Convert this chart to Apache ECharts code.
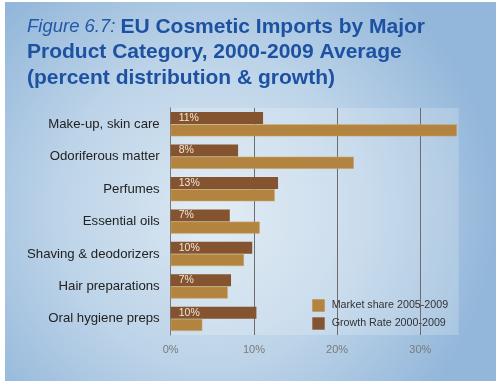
<!DOCTYPE html>
<html><head><meta charset="utf-8">
<script src="https://cdn.jsdelivr.net/npm/echarts@6/dist/echarts.min.js"></script>
<style>
html,body{margin:0;padding:0;background:#fff;width:496px;height:381px;overflow:hidden;}
#c{position:absolute;left:5px;top:2px;width:491px;height:379px;}
</style></head>
<body><div id="c"></div>
<script>
var categories = ['Make-up, skin care','Odoriferous matter','Perfumes','Essential oils','Shaving & deodorizers','Hair preparations','Oral hygiene preps'];
var marketShare = [34.4, 22.0, 12.5, 10.7, 8.8, 6.85, 3.8];
var growthRate = [11.1, 8.1, 12.9, 7.1, 9.8, 7.25, 10.3];
var growthLabels = ['11%','8%','13%','7%','10%','7%','10%'];
var xTicks = [0, 10, 20, 30];
var seriesNames = ['Market share 2005-2009','Growth Rate 2000-2009'];

var chart = echarts.init(document.getElementById('c'), null, {renderer:'canvas'});
var font = '"Liberation Sans", Arial, Helvetica, sans-serif';
chart.setOption({
  animation:false,
  backgroundColor:{type:'radial', x:0.42, y:0.55, r:0.75,
    colorStops:[{offset:0,color:'#dbe8f2'},{offset:0.55,color:'#bcd3e8'},{offset:1,color:'#93b7da'}]},
  textStyle:{fontFamily:font},
  title:{
    left:22, top:12, padding:0,
    text:'{it|Figure 6.7:} {b|EU Cosmetic Imports by Major}\n{b|Product Category, 2000-2009 Average}\n{b|(percent distribution & growth)}',
    textStyle:{
      rich:{
        it:{fontFamily:font, fontStyle:'italic', fontWeight:'normal', fontSize:18.5, color:'#2458a8', lineHeight:25.5},
        b:{fontFamily:font, fontWeight:'bold', fontSize:21, color:'#1d52a2', lineHeight:25.5}
      }
    }
  },
  legend:{
    orient:'vertical', left:307.3, top:297.3, padding:0, itemWidth:12.4, itemHeight:12.4, itemGap:5.6,
    data:seriesNames, icon:'rect', itemStyle:{borderWidth:0},
    textStyle:{fontFamily:'"Liberation Sans Narrow", "Liberation Sans", Arial, sans-serif', fontSize:10.7, color:'#333', padding:[0,0,0,2]}
  },
  grid:{left:165.7, top:106, width:287.9, height:227, show:true,
    backgroundColor:'rgba(255,255,255,0.2)', borderWidth:0},
  xAxis:{
    type:'value', min:0, max:34.6, interval:10,
    axisLine:{show:false}, axisTick:{show:false},
    splitLine:{show:true, lineStyle:{color:['#777','#6d6d6d','#6d6d6d','#6d6d6d','rgba(0,0,0,0)'], width:1}},
    axisLabel:{margin:9, fontSize:11, color:'#7a7a7a',
      formatter:function(v){ return xTicks.indexOf(v) >= 0 ? v + '%' : ''; }}
  },
  yAxis:{
    type:'category', inverse:true, data:categories,
    axisLine:{show:true, lineStyle:{color:'#7a7a7a', width:1}},
    axisTick:{show:false},
    axisLabel:{margin:11, fontSize:13.2, color:'#222'}
  },
  series:[
    {name:seriesNames[1], type:'bar', data:growthRate, barWidth:12, barGap:'0%',
      itemStyle:{color:'#83542f'},
      label:{show:true, position:'insideLeft', distance:8, fontSize:10.5, color:'#f2e6d8',
        formatter:function(p){ return growthLabels[p.dataIndex]; }}},
    {name:seriesNames[0], type:'bar', data:marketShare, barWidth:12, barGap:'2%',
      itemStyle:{color:'#b3843f', borderColor:'#c79f63', borderWidth:0.6}}
  ]
});
</script></body></html>
